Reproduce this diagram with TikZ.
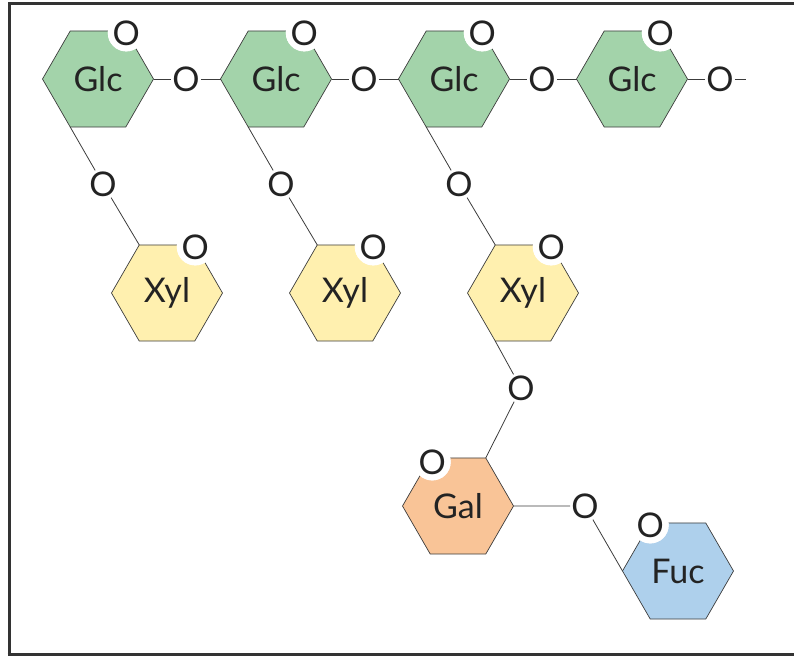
\documentclass[tikz,border=0pt]{standalone}
\usepackage{fontspec}
\setmainfont{Lato}
\usetikzlibrary{shapes.geometric,calc}
\definecolor{glcgreen}{RGB}{163,211,170}
\definecolor{xylyellow}{RGB}{255,240,175}
\definecolor{galorange}{RGB}{249,196,151}
\definecolor{fucblue}{RGB}{174,208,236}
\definecolor{edgegray}{RGB}{60,60,60}
\definecolor{txtgray}{RGB}{35,35,35}
\tikzset{
  sugar/.style={regular polygon, regular polygon sides=6, minimum size=111pt,
    inner sep=0pt, draw=edgegray, line width=0.7pt, text=txtgray,
    font=\fontsize{34}{34}\selectfont},
  glc/.style={sugar, fill=glcgreen},
  xyl/.style={sugar, fill=xylyellow},
  gal/.style={sugar, fill=galorange},
  fuc/.style={sugar, fill=fucblue},
  oxy/.style={inner sep=1pt, text=txtgray, font=\fontsize{34}{34}\selectfont},
  ringo/.style={circle, fill=white, inner sep=0pt, text=txtgray,
    font=\fontsize{34}{34}\selectfont},
  bond/.style={draw=edgegray, line width=0.8pt},
  frame/.style={draw=black!80, line width=3pt}
}
\begin{document}
\begin{tikzpicture}[x=1pt,y=-1pt]
\useasboundingbox (0,0) rectangle (794,659);
% frame
\draw[frame] (9,654.5) -- (9,3.5) -- (794,3.5);
\draw[frame] (7.5,654.5) -- (794,654.5);
% glucose backbone
\node[glc] (g1) at (98,79) {Glc};
\node[glc] (g2) at (276,79) {Glc};
\node[glc] (g3) at (454,79) {Glc};
\node[glc] (g4) at (632,79) {Glc};
% xylose
\node[xyl] (x1) at (167,293) {Xyl};
\node[xyl] (x2) at (345,293) {Xyl};
\node[xyl] (x3) at (523,293) {Xyl};
% galactose, fucose
\node[gal] (ga) at (458,506) {Gal};
\node[fuc] (fu) at (678,571) {Fuc};
% ring oxygens
\foreach \n in {g1,g2,g3,g4,x1,x2,x3}
  \node[ringo] (r\n) at ($(\n)+(60:55.5pt)+(0.5pt,-2pt)$) {O};
\node[ringo] (rga) at ($(ga)+(120:55.5pt)+(2pt,-4pt)$) {O};
\node[ringo] (rfu) at ($(fu)+(120:55.5pt)+(0pt,-2pt)$) {O};
% glycosidic oxygens
\node[oxy] (o12) at (186,79) {O};
\node[oxy] (o23) at (364,79) {O};
\node[oxy] (o34) at (542,79) {O};
\node[oxy] (o4e) at (720,79) {O};
\coordinate (cend) at (746,79);
\node[oxy] (ox1) at (103,184) {O};
\node[oxy] (ox2) at (281,184) {O};
\node[oxy] (ox3) at (459,184) {O};
\node[oxy] (oxg) at (521,388) {O};
\node[oxy] (ogf) at (585,506) {O};
% bonds along backbone
\draw[bond] ($(g1)+(0:55.5pt)$) -- (o12) -- ($(g2)+(180:55.5pt)$);
\draw[bond] ($(g2)+(0:55.5pt)$) -- (o23) -- ($(g3)+(180:55.5pt)$);
\draw[bond] ($(g3)+(0:55.5pt)$) -- (o34) -- ($(g4)+(180:55.5pt)$);
\draw[bond] ($(g4)+(0:55.5pt)$) -- (o4e) -- (cend);
% glc -> xyl
\draw[bond] ($(g1)+(240:55.5pt)$) -- (ox1) -- ($(x1)+(120:55.5pt)$);
\draw[bond] ($(g2)+(240:55.5pt)$) -- (ox2) -- ($(x2)+(120:55.5pt)$);
\draw[bond] ($(g3)+(240:55.5pt)$) -- (ox3) -- ($(x3)+(120:55.5pt)$);
% xyl -> gal -> fuc
\draw[bond] ($(x3)+(240:55.5pt)$) -- (oxg) -- ($(ga)+(60:55.5pt)$);
\draw[bond] ($(ga)+(0:55.5pt)$) -- (ogf) -- ($(fu)+(180:55.5pt)$);
% redraw ring oxygens on top
\foreach \n in {g1,g2,g3,g4,x1,x2,x3}
  \node[ringo] at (r\n) {O};
\node[ringo] at (rga) {O};
\node[ringo] at (rfu) {O};
\end{tikzpicture}
\end{document}
